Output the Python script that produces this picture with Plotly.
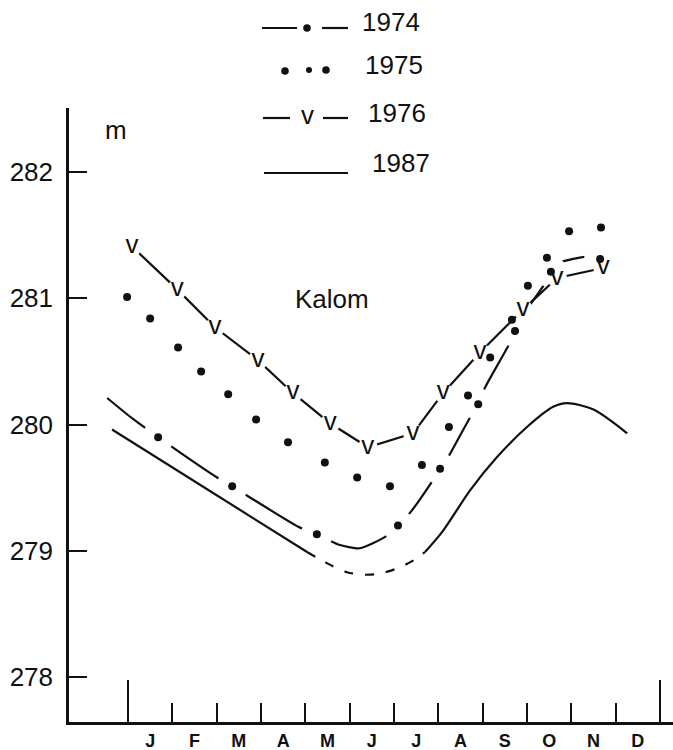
import plotly.graph_objects as go

# ---------------- data ----------------
months = ["J", "F", "M", "A", "M", "J", "J", "A", "S", "O", "N", "D"]
month_pos = [i + 0.5 for i in range(12)]
y_ticks = [278, 279, 280, 281, 282]
year_ticks = [0, 12]
month_ticks = list(range(1, 12))

# 1974 (dash-dot line; x in months from 1 Jan)
m1974 = [-0.47, 0.09, 0.68, 2.01, 2.35, 3.84, 4.26, 4.74, 5.23, 5.80, 6.09, 6.36, 6.88,
         7.04, 7.22, 7.69, 7.90, 8.05, 8.62, 8.73, 9.00, 9.41, 9.54, 9.72, 10.38, 10.65]
v1974 = [280.21, 280.05, 279.90, 279.58, 279.51, 279.19, 279.13, 279.05, 279.02, 279.11,
         279.20, 279.30, 279.56, 279.65, 279.74, 280.04, 280.16, 280.29, 280.65, 280.74,
         280.91, 281.12, 281.21, 281.28, 281.33, 281.31]
m1974_dots = [0.68, 2.35, 4.26, 6.09, 7.04, 7.90, 8.73, 9.54, 10.65]
v1974_dots = [279.90, 279.51, 279.13, 279.20, 279.65, 280.16, 280.74, 281.21, 281.31]

# 1975 (dots)
m1975 = [-0.02, 0.50, 1.13, 1.65, 2.26, 2.89, 3.61, 4.44, 5.17, 5.91, 6.63, 7.24, 7.67,
         8.17, 8.66, 9.02, 9.45, 9.95, 10.67]
v1975 = [281.01, 280.84, 280.61, 280.42, 280.24, 280.04, 279.86, 279.70, 279.58, 279.51,
         279.68, 279.98, 280.23, 280.53, 280.83, 281.10, 281.32, 281.53, 281.56]

# 1976 (v markers with broken line)
m1976 = [0.09, 1.11, 1.96, 2.93, 3.72, 4.56, 5.41, 6.43, 7.11, 7.94, 8.91, 9.68, 10.72]
v1976 = [281.41, 281.07, 280.77, 280.51, 280.25, 280.01, 279.82, 279.93, 280.25, 280.57,
         280.91, 281.16, 281.24]

# 1987 (solid, interpolated dashed part, solid)
m1987_a = [-0.36, 4.04]
v1987_a = [279.96, 278.99]
m1987_b = [4.04, 4.44, 4.94, 5.35, 5.69, 6.07, 6.47, 6.70]
v1987_b = [278.99, 278.91, 278.83, 278.81, 278.82, 278.86, 278.93, 278.99]
m1987_c = [6.70, 7.11, 7.72, 8.32, 9.00, 9.59, 9.90, 10.49, 11.26]
v1987_c = [278.99, 279.16, 279.48, 279.74, 279.98, 280.14, 280.17, 280.12, 279.93]

# ---------------- layout geometry ----------------
W, H = 673, 750
ML, MR, MT, MB = 69, 0, 108, 28
PW, PH = W - ML - MR, H - MT - MB
X0_PX, X_PER_MONTH = 128, 44.33
Y282_PX, Y_PER_M = 172, 126.25
x_range = [(ML - X0_PX) / X_PER_MONTH, (W - MR - X0_PX) / X_PER_MONTH]
y_range = [282 - (H - MB - Y282_PX) / Y_PER_M, 282 + (Y282_PX - MT) / Y_PER_M]

FONT = "Liberation Sans, Arial, sans-serif"
BLACK = "#111111"
LW = 2.2


def px(x):
    return (x - ML) / PW


def py(y):
    return (H - MB - y) / PH


fig = go.Figure()

# 1974 line, with gaps around its dots
fig.add_trace(go.Scatter(x=m1974, y=v1974, mode="lines", hoverinfo="skip",
                         line=dict(color=BLACK, width=LW, shape="spline", smoothing=0.6)))
fig.add_trace(go.Scatter(x=m1974_dots, y=v1974_dots, mode="markers", hoverinfo="skip",
                         marker=dict(size=32, color="white", line=dict(width=0))))

# 1987
fig.add_trace(go.Scatter(x=m1987_a, y=v1987_a, mode="lines",
                         line=dict(color=BLACK, width=LW)))
fig.add_trace(go.Scatter(x=m1987_b, y=v1987_b, mode="lines",
                         line=dict(color=BLACK, width=LW, dash="9px,12px",
                                   shape="spline", smoothing=0.8)))
fig.add_trace(go.Scatter(x=m1987_c, y=v1987_c, mode="lines",
                         line=dict(color=BLACK, width=LW, shape="spline", smoothing=0.8)))

# 1976 line with gaps around v markers
fig.add_trace(go.Scatter(x=m1976, y=v1976, mode="lines",
                         line=dict(color=BLACK, width=LW)))
fig.add_trace(go.Scatter(x=m1976, y=v1976, mode="markers", hoverinfo="skip",
                         marker=dict(size=20, color="white", line=dict(width=0))))

# dots
fig.add_trace(go.Scatter(x=m1974_dots, y=v1974_dots, mode="markers",
                         marker=dict(size=8, color=BLACK, line=dict(width=0))))
fig.add_trace(go.Scatter(x=m1975, y=v1975, mode="markers",
                         marker=dict(size=8, color=BLACK, line=dict(width=0))))
fig.add_trace(go.Scatter(x=m1976, y=v1976, mode="text", text=["v"] * len(m1976),
                         textposition="middle center",
                         textfont=dict(family=FONT, size=26, color=BLACK)))

# invisible trace to activate xaxis2 (month labels)
fig.add_trace(go.Scatter(x=[month_pos[0]], y=[y_ticks[0]], xaxis="x2", mode="markers",
                         marker=dict(opacity=0), hoverinfo="skip"))

shapes = []
annotations = []

# legend
def hline(x1, x2, y):
    shapes.append(dict(type="line", xref="paper", yref="paper",
                       x0=px(x1), x1=px(x2), y0=py(y), y1=py(y),
                       line=dict(color=BLACK, width=LW)))


def dot(x, y, r=3.8):
    shapes.append(dict(type="circle", xref="paper", yref="paper",
                       x0=px(x - r), x1=px(x + r), y0=py(y + r), y1=py(y - r),
                       fillcolor=BLACK, line=dict(width=0)))


def label(text, x, y, size=26, anchor="left"):
    annotations.append(dict(text=text, xref="paper", yref="paper", x=px(x), y=py(y),
                            xanchor=anchor, yanchor="middle", showarrow=False,
                            font=dict(family=FONT, size=size, color=BLACK)))


hline(262, 297, 28); hline(322, 348, 28); dot(307, 28)
label("1974", 360, 22)
dot(285, 71); dot(309, 70, 3.0); dot(326, 70)
label("1975", 363, 65)
hline(263, 290, 118); hline(323, 348, 118)
label("v", 307, 115, size=26, anchor="center")
label("1976", 366, 113)
hline(264, 348, 173)
label("1987", 370, 163)

label("m", 116, 130, anchor="center")
label("Kalom", 332, 299, anchor="center")

fig.update_layout(
    width=W, height=H,
    margin=dict(l=ML, r=MR, t=MT, b=MB, pad=0),
    paper_bgcolor="white", plot_bgcolor="white",
    showlegend=False,
    shapes=shapes, annotations=annotations,
    font=dict(family=FONT, color=BLACK),
    xaxis=dict(range=x_range, showgrid=False, zeroline=False,
               showline=True, linecolor=BLACK, linewidth=2.5,
               tickmode="array", tickvals=year_ticks, ticks="inside",
               ticklen=42, tickwidth=2, tickcolor=BLACK, showticklabels=False,
               minor=dict(tickmode="array", tickvals=month_ticks, ticks="inside",
                          ticklen=19, tickwidth=1.6, tickcolor=BLACK)),
    xaxis2=dict(range=x_range, overlaying="x", anchor="y", side="bottom",
                showgrid=False, zeroline=False, showline=False,
                tickmode="array", tickvals=month_pos, ticktext=months, ticks="",
                ticklabelstandoff=6,
                tickfont=dict(family=FONT, size=18, color=BLACK, weight="bold")),
    yaxis=dict(range=y_range, showgrid=False, zeroline=False,
               showline=True, linecolor=BLACK, linewidth=2.5,
               tickmode="array", tickvals=y_ticks, ticks="inside",
               ticklen=18, tickwidth=2, tickcolor=BLACK,
               ticklabelstandoff=8,
               tickfont=dict(family=FONT, size=26, color=BLACK)),
)

fig.write_html("out.html")
